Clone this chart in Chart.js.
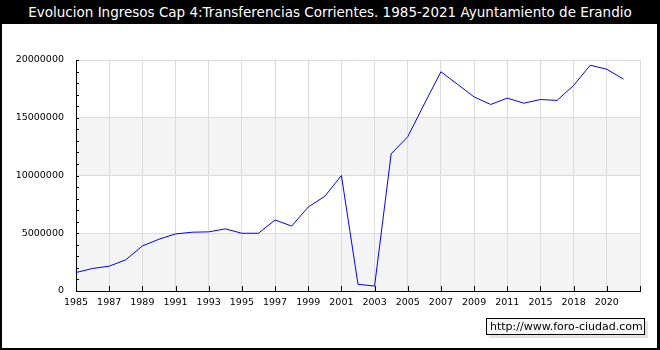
<!DOCTYPE html>
<html lang="es">
<head>
<meta charset="UTF-8">
<title>Evolucion Ingresos Cap 4 Erandio</title>
<script src="https://cdn.jsdelivr.net/npm/chart.js"></script>
<style>
    body { margin: 0; background: #fff; }
    #marco { position: relative; width: 660px; height: 350px; overflow: hidden; }
    #lienzo { position: absolute; left: 0; top: 0; }
    #titulo {
        position: absolute; left: 0; top: 0; width: 660px; height: 24px;
        background: #000; color: #fff; text-align: center;
        font: 13.5px "DejaVu Sans", sans-serif; line-height: 24px;
    }
    #borde {
        position: absolute; left: 0; top: 0; width: 660px; height: 350px;
        box-sizing: border-box; border: 2px solid #000; border-right-width: 3px;
        pointer-events: none;
    }
    #marca {
        position: absolute; left: 486px; top: 318px; width: 159px; height: 17px;
        box-sizing: border-box; border: 1px solid #000; background: #f8f8f8;
        box-shadow: 3px 3px 0 #e4e4e4;
        font: 11px "DejaVu Sans", sans-serif; line-height: 15px; padding-left: 3px;
        color: #000;
    }
</style>
</head>
<body>
<div id="marco">
    <canvas id="lienzo" width="660" height="350"></canvas>
    <div id="titulo">Evolucion Ingresos Cap 4:Transferencias Corrientes. 1985-2021 Ayuntamiento de Erandio</div>
    <div id="marca">http://www.foro-ciudad.com</div>
    <div id="borde"></div>
</div>
<script>
    // años (solo se rotulan los de posicion par)
    const anios = ['1985','1986','1987','1988','1989','1990','1991','1992','1993','1994',
                   '1995','1996','1997','1998','1999','2000','2001','2002','2003','2004',
                   '2005','2006','2007','2008','2009','2010','2011','2014','2015','2016',
                   '2018','2019','2020','2021']
    const ingresos = [1600000, 1950000, 2150000, 2700000, 3900000, 4480000, 4940000, 5090000, 5120000, 5380000,
                      5000000, 5000000, 6150000, 5620000, 7270000, 8200000, 10000000, 580000, 430000, 11880000,
                      13360000, 16200000, 18980000, 17900000, 16800000, 16150000, 16700000, 16260000, 16580000, 16500000,
                      17800000, 19550000, 19200000, 18350000]
    const ticksY = [0, 5000000, 10000000, 15000000, 20000000]

    const puntos = ingresos.map((v, i) => ({x: i, y: v}))

    // bandas grises alternas y marcas pequeñas de los ejes
    const fondoBandas = {
        id: 'fondoBandas',
        beforeDraw(chart) {
            const ctx = chart.ctx
            const a = chart.chartArea
            const y = chart.scales.y
            ctx.save()
            ctx.fillStyle = '#f4f4f4'
            for (let i = 0; i < ticksY.length - 1; i += 2) {
                const y0 = y.getPixelForValue(ticksY[i])
                const y1 = y.getPixelForValue(ticksY[i + 1])
                ctx.fillRect(a.left, y1, a.right - a.left, y0 - y1)
            }
            ctx.restore()
        },
        afterDraw(chart) {
            const ctx = chart.ctx
            const a = chart.chartArea
            const x = chart.scales.x
            const y = chart.scales.y
            ctx.save()
            ctx.strokeStyle = '#000'
            ctx.lineWidth = 1
            ctx.beginPath()
            for (let v = 0; v <= 20000000; v += 1000000) {
                const py = Math.round(y.getPixelForValue(v)) + 0.5
                ctx.moveTo(a.left, py)
                ctx.lineTo(a.left + 3, py)
            }
            for (let i = 0; i <= 34; i += 2) {
                const px = Math.round(x.getPixelForValue(i)) + 0.5
                ctx.moveTo(px, a.bottom)
                ctx.lineTo(px, a.bottom - 5)
            }
            ctx.stroke()
            ctx.restore()
        }
    }

    const fuente = { family: 'DejaVu Sans', size: 9.5 }

    const config = {
        type: 'line',
        data: {
            datasets: [{
                data: puntos,
                borderColor: '#0000ff',
                borderWidth: 1,
                pointRadius: 0,
                tension: 0,
                fill: false
            }]
        },
        options: {
            responsive: false,
            animation: false,
            layout: { padding: { left: 0, top: 60, right: 20, bottom: 0 } },
            plugins: { legend: { display: false }, tooltip: { enabled: false } },
            scales: {
                x: {
                    type: 'linear',
                    min: 0,
                    max: 34,
                    afterFit(s) { s.height = 59 },
                    ticks: {
                        stepSize: 2,
                        color: '#000',
                        font: fuente,
                        padding: 6,
                        maxRotation: 0,
                        autoSkip: false,
                        callback: v => anios[v] !== undefined ? anios[v] : ''
                    },
                    grid: { color: '#dcdcdc', drawTicks: false },
                    border: { color: '#000', width: 1 }
                },
                y: {
                    min: 0,
                    max: 20000000,
                    afterFit(s) { s.width = 76 },
                    ticks: {
                        stepSize: 5000000,
                        color: '#000',
                        font: fuente,
                        padding: 12,
                        callback: v => String(v)
                    },
                    grid: { color: '#dcdcdc', drawTicks: false },
                    border: { color: '#000', width: 1 }
                }
            }
        },
        plugins: [fondoBandas]
    }

    new Chart(document.getElementById('lienzo').getContext('2d'), config)
</script>
</body>
</html>
